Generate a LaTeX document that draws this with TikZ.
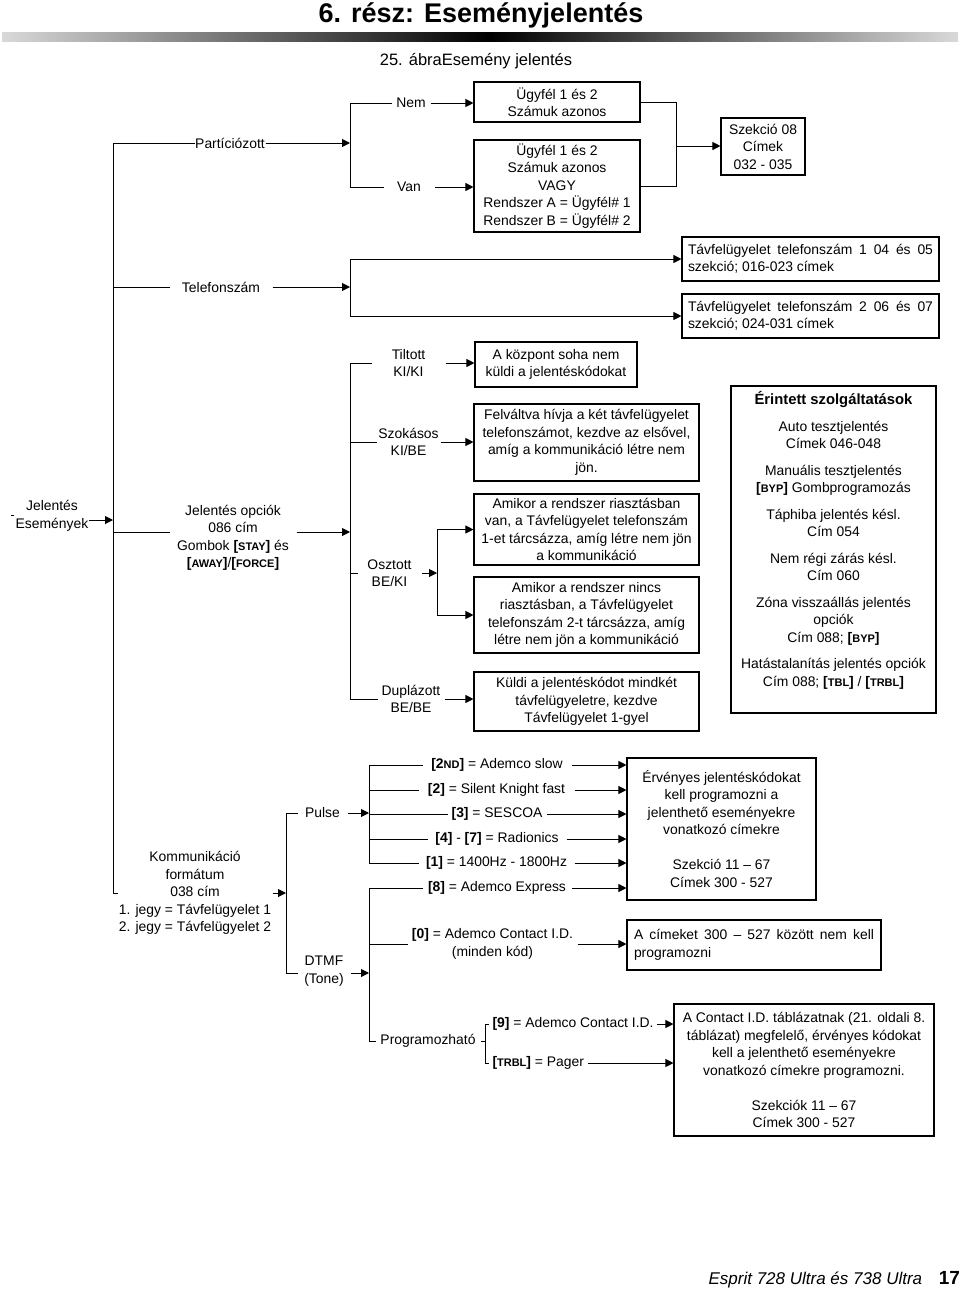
\documentclass[tikz,border=0pt]{standalone}
\usepackage{fontspec}
\setmainfont{Liberation Sans}
\usetikzlibrary{arrows.meta}

\hyphenpenalty=10000
\newcommand{\gomb}[1]{\textbf{[#1]}}
\newcommand{\kis}[1]{{\fontsize{11}{13}\selectfont #1}}

\tikzset{
  doboz/.style={draw, line width=1.1pt, align=center, inner sep=0pt},
  tavdoboz/.style={doboz, align=justify, inner xsep=6pt, minimum height=44pt, text width=245pt},
  felirat/.style={inner sep=0pt, align=center},
  nyil/.style={-{Triangle[length=8pt,width=8pt]}},
}

\begin{document}
\begin{tikzpicture}[x=1pt, y=-1pt, line width=1pt, font=\fontsize{13.9}{17.5}\selectfont]
    \useasboundingbox (0,0) rectangle (960,1291);

    % Title and shaded bar
    \node (cim) at (481,15) {\fontsize{27}{30}\selectfont\bfseries 6. rész: Eseményjelentés};
    \shade[left color=gray!30, right color=black] (2,32) rectangle (490,41);
    \shade[left color=black, right color=gray!30] (490,32) rectangle (958,41);
    \node (abra) at (476,61) {\fontsize{16.5}{19}\selectfont 25. ábraEsemény jelentés};

    % Fork points
    \coordinate (trtop) at (113,143);
    \coordinate (jarr) at (113,520);
    \coordinate (tick) at (11,515);
    \coordinate (pfork) at (350,143);
    \coordinate (sfork) at (676,146);
    \coordinate (tfork) at (350,287);
    \coordinate (jfork) at (350,532);
    \coordinate (ofork) at (437,573);
    \coordinate (kfork) at (286,893);
    \coordinate (pv) at (369,813);
    \coordinate (dv) at (369,973);
    \coordinate (prv) at (485,1041);

    % Labels on the lines
    \node[felirat] (jelesem) at (52,516) {Jelentés\\Események};
    \node[felirat, minimum width=70] (partic) at (230,143) {Partíciózott};
    \node[felirat, minimum width=38] (nem) at (411,103) {Nem};
    \node[felirat, minimum width=50] (van) at (409,187) {Van};
    \node[felirat, minimum width=102] (telef) at (221,287) {Telefonszám};
    \node[felirat, minimum width=126] (jelopc) at (233,538) {Jelentés opciók\\086 cím\\Gombok \gomb{\kis{STAY}} és\\\gomb{\kis{AWAY}}/\gomb{\kis{FORCE}}};
    \node[felirat, minimum width=73] (tiltott) at (408.5,363) {Tiltott\\KI/KI};
    \node[felirat, minimum width=63] (szokasos) at (408.5,442) {Szokásos\\KI/BE};
    \node[felirat, minimum width=63] (osztott) at (389.5,573) {Osztott\\BE/KI};
    \node[felirat, minimum width=66] (duplazott) at (411,699) {Duplázott\\BE/BE};

    % Boxes, upper part
    \node[doboz, minimum width=166, minimum height=40] (ugy1) at (557,102) {Ügyfél 1 és 2\\Számuk azonos};
    \node[doboz, minimum width=166, minimum height=92] (ugy2) at (557,186) {Ügyfél 1 és 2\\Számuk azonos\\VAGY\\Rendszer A = Ügyfél\# 1\\Rendszer B = Ügyfél\# 2};
    \node[doboz, minimum width=84, minimum height=57] (szek08) at (763,146.5) {Szekció 08\\Címek\\032 - 035};
    \node[tavdoboz] (tav1) at (810.5,259) {Távfelügyelet telefonszám 1 04 és 05 szekció; 016-023 címek};
    \node[tavdoboz] (tav2) at (810.5,316) {Távfelügyelet telefonszám 2 06 és 07 szekció; 024-031 címek};
    \node[doboz, minimum width=162, minimum height=45] (tilt) at (556,364.5) {A központ soha nem\\küldi a jelentéskódokat};
    \node[doboz, minimum width=225, minimum height=77] (szok) at (586.5,442.5) {Felváltva hívja a két távfelügyelet\\telefonszámot, kezdve az elsővel,\\amíg a kommunikáció létre nem\\jön.};
    \node[doboz, minimum width=225, minimum height=71] (amik1) at (586.5,529.5) {Amikor a rendszer riasztásban\\van, a Távfelügyelet telefonszám\\1-et tárcsázza, amíg létre nem jön\\a kommunikáció};
    \node[doboz, minimum width=225, minimum height=76] (amik2) at (586.5,615) {Amikor a rendszer nincs\\riasztásban, a Távfelügyelet\\telefonszám 2-t tárcsázza, amíg\\létre nem jön a kommunikáció};
    \node[doboz, minimum width=225, minimum height=59] (kuldi) at (586.5,701.5) {Küldi a jelentéskódot mindkét\\távfelügyeletre, kezdve\\Távfelügyelet 1-gyel};

    % Affected features
    \node[doboz, line width=2.5pt, minimum width=205, minimum height=327] (erint) at (833.5,549.5) {};
    \node[felirat, anchor=north] (erintszov) at (833.5,391) {{\fontsize{14.8}{17.5}\selectfont\bfseries Érintett szolgáltatások}\\[9pt]
        Auto tesztjelentés\\Címek 046-048\\[9pt]
        Manuális tesztjelentés\\\gomb{\kis{BYP}} Gombprogramozás\\[9pt]
        Táphiba jelentés késl.\\Cím 054\\[9pt]
        Nem régi zárás késl.\\Cím 060\\[9pt]
        Zóna visszaállás jelentés\\opciók\\Cím 088; \gomb{\kis{BYP}}\\[9pt]
        Hatástalanítás jelentés opciók\\Cím 088; \gomb{\kis{TBL}} / \gomb{\kis{TRBL}}};

    % Lower part
    \node[felirat, minimum width=154] (komm) at (195,893) {Kommunikáció\\formátum\\038 cím\\1. jegy = Távfelügyelet 1\\2. jegy = Távfelügyelet 2};
    \node[felirat, minimum width=49] (pulse) at (322.5,813) {Pulse};
    \node[felirat, minimum width=52] (dtmf) at (324,971) {DTMF\\(Tone)};
    \node[felirat, minimum width=148] (p1) at (497,765) {\gomb{2\kis{ND}} = Ademco slow};
    \node[felirat, minimum width=155] (p2) at (496.5,790) {\gomb{2} = Silent Knight fast};
    \node[felirat, minimum width=98] (p3) at (497,814) {\gomb{3} = SESCOA};
    \node[felirat, minimum width=138] (p4) at (497,839) {\gomb{4} - \gomb{7} = Radionics};
    \node[felirat, minimum width=155] (p5) at (496.5,863) {\gomb{1} = 1400Hz - 1800Hz};
    \node[felirat, minimum width=148] (d8) at (497,888) {\gomb{8} = Ademco Express};
    \node[felirat, minimum width=169] (d0) at (492.5,944) {\gomb{0} = Ademco Contact I.D.\\(minden kód)};
    \node[felirat, minimum width=104] (prog) at (428,1041) {Programozható};
    \node[felirat, anchor=west, inner xsep=3pt] (prog9) at (489,1024) {\gomb{9} = Ademco Contact I.D.};
    \node[felirat, anchor=west, inner xsep=3pt] (progtrbl) at (489,1063) {\gomb{\kis{TRBL}} = Pager};

    \node[doboz, minimum width=189, minimum height=142] (erveny) at (721.5,829) {Érvényes jelentéskódokat\\kell programozni a\\jelenthető eseményekre\\vonatkozó címekre\\[17.5pt]Szekció 11 – 67\\Címek 300 - 527};
    \node[doboz, align=justify, inner xsep=7pt, text width=240, minimum height=50] (cimeket) at (754,945) {A címeket 300 – 527 között nem kell programozni};
    \node[doboz, minimum width=260, minimum height=132] (contact) at (804,1070) {A Contact I.D. táblázatnak (21. oldali 8.\\táblázat) megfelelő, érvényes kódokat\\kell a jelenthető eseményekre\\vonatkozó címekre programozni.\\[17.5pt]Szekciók 11 – 67\\Címek 300 - 527};

    % Trunk
    \draw (trtop) |- (komm.west);
    \draw[nyil] (jelesem.east |- jarr) -- (jarr);
    \draw (tick) -- ++(3,0);

    % Partitioned branch
    \draw (trtop) -- (partic.west);
    \draw[nyil] (partic.east) -- (pfork);
    \draw (pfork |- nem) -- (pfork |- van);
    \draw (pfork |- nem) -- (nem.west);
    \draw (pfork |- van) -- (van.west);
    \draw[nyil] (nem.east) -- (nem.east -| ugy1.west);
    \draw[nyil] (van.east) -- (van.east -| ugy2.west);
    \draw (ugy1.east) -| (sfork);
    \draw (ugy2.east) -| (sfork);
    \draw[nyil] (sfork) -- (sfork -| szek08.west);

    % Phone number branch
    \draw (telef.west -| trtop) -- (telef.west);
    \draw[nyil] (telef.east) -- (tfork);
    \draw (tfork |- tav1) -- (tfork |- tav2);
    \draw[nyil] (tfork |- tav1) -- (tav1.west);
    \draw[nyil] (tfork |- tav2) -- (tav2.west);

    % Reporting options branch
    \draw (trtop |- jfork) -- (jelopc.west |- jfork);
    \draw[nyil] (jelopc.east |- jfork) -- (jfork);
    \draw (jfork |- tiltott) -- (jfork |- duplazott);
    \foreach \n in {tiltott, szokasos, osztott, duplazott}
        \draw (jfork |- \n) -- (\n.west);
    \draw[nyil] (tiltott.east) -- (tiltott.east -| tilt.west);
    \draw[nyil] (szokasos.east) -- (szokasos.east -| szok.west);
    \draw[nyil] (osztott.east) -- (ofork);
    \draw (ofork |- amik1) -- (ofork |- amik2);
    \draw[nyil] (ofork |- amik1) -- (amik1.west);
    \draw[nyil] (ofork |- amik2) -- (amik2.west);
    \draw[nyil] (duplazott.east) -- (duplazott.east -| kuldi.west);

    % Communication format branch
    \draw[nyil] (komm.east) -- (kfork);
    \draw (kfork |- pulse) -- (kfork |- dv);
    \draw (kfork |- pulse) -- (pulse.west);
    \draw (kfork |- dv) -- (dtmf.west |- dv);
    \draw[nyil] (pulse.east) -- (pv);
    \draw[nyil] (dtmf.east |- dv) -- (dv);
    \draw (pv |- p1) -- (pv |- p5);
    \foreach \n in {p1, p2, p3, p4, p5} {
        \draw (pv |- \n) -- (\n.west);
        \draw[nyil] (\n.east) -- (\n.east -| erveny.west);
    }
    \draw (dv |- d8) -- (dv |- prog);
    \draw (dv |- d8) -- (d8.west);
    \draw (dv |- d0) -- (d0.west);
    \draw (dv |- prog) -- (prog.west);
    \draw[nyil] (d8.east) -- (d8.east -| erveny.west);
    \draw[nyil] (d0.east) -- (d0.east -| cimeket.west);
    \draw (prog.east) -- (prv);
    \draw (prv |- prog9) -- (prv |- progtrbl);
    \draw (prv |- prog9) -- (prog9.west);
    \draw (prv |- progtrbl) -- (progtrbl.west);
    \draw[nyil] (prog9.east) -- (prog9.east -| contact.west);
    \draw[nyil] (progtrbl.east) -- (progtrbl.east -| contact.west);

    % Footer
    \node[anchor=base east] (kezik) at (926,1284) {\fontsize{17}{20}\selectfont\itshape Esprit 728 Ultra és 738 Ultra};
    \node[anchor=base west] (oldal) at (935,1284) {\fontsize{19}{20}\selectfont\bfseries 17};
\end{tikzpicture}
\end{document}
